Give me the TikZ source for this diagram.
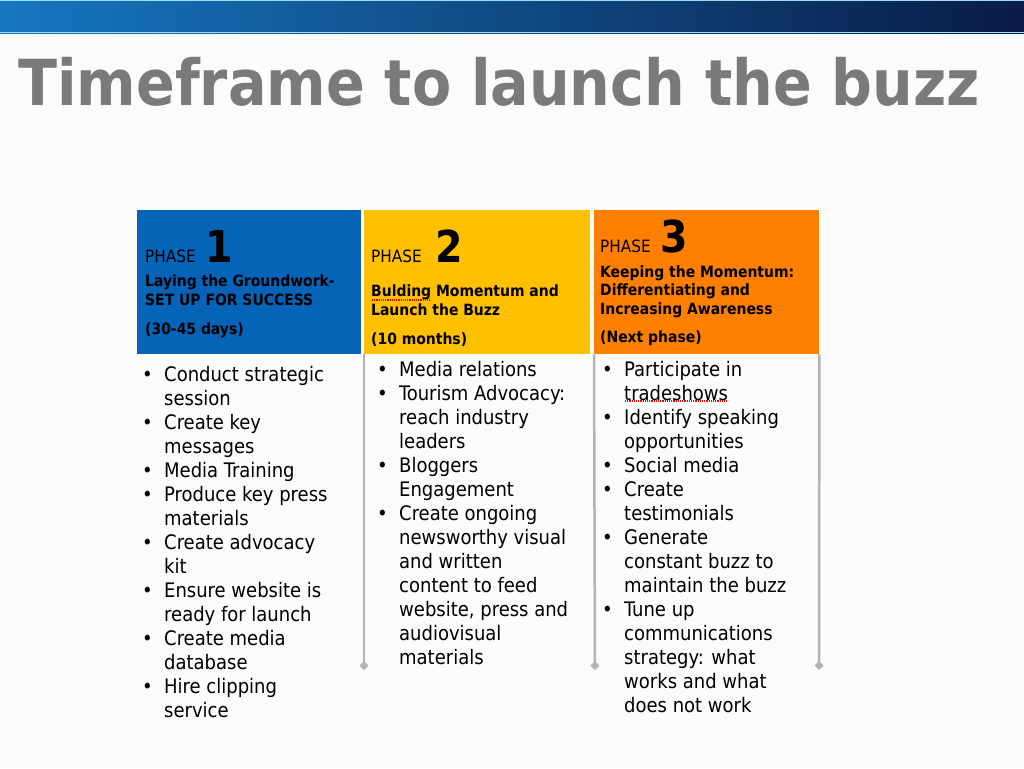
\documentclass[tikz,border=0pt]{standalone}
\usepackage{fontspec}
\setmainfont{DejaVu Sans Condensed}
\usetikzlibrary{arrows.meta}
\definecolor{barLight}{HTML}{1677C0}
\definecolor{barMid}{HTML}{0B4C92}
\definecolor{barDark}{HTML}{0A1C47}
\definecolor{titleGray}{HTML}{7A7A7A}
\definecolor{phaseBlue}{HTML}{0563B8}
\definecolor{phaseYellow}{HTML}{FFC000}
\definecolor{phaseOrange}{HTML}{FF8000}
\definecolor{railGray}{HTML}{B4B4B4}
\newcommand\bl{\makebox[22pt][l]{•}}
\newcommand\ct{\hspace*{22pt}}
\begin{document}
\begin{tikzpicture}[x=1pt,y=-1pt,
    phasebox/.style={draw=none, minimum width=225pt, minimum height=144pt, anchor=north west, inner sep=0pt},
    word/.style={anchor=base west, inner sep=0pt, font=\fontsize{17}{17}\selectfont},
    digit/.style={anchor=base west, inner sep=0pt, font=\fontsize{44}{44}\selectfont\bfseries},
    sub/.style={anchor=base west, inner sep=0pt, align=left, font=\fontsize{15.5}{18.5}\selectfont\bfseries},
    list/.style={anchor=base west, inner sep=0pt, font=\fontsize{20}{24}\selectfont},
    rail/.style={draw=railGray, line width=2.5pt, -{Diamond[length=9pt,width=9pt]}}]
\useasboundingbox (0,0) rectangle (1024,768);
\fill[white!97!gray] (0,0) rectangle (1024,768);

% top bar
\shade[left color=barLight, middle color=barMid, right color=barDark] (0,0) rectangle (1024,34);
\draw[cyan!40, line width=1pt] (0,1) -- (1024,1);
\draw[cyan!40, line width=1pt] (0,33) -- (1024,33);
\node[anchor=base west, inner sep=0pt, text=titleGray, font=\fontsize{63.5}{64}\selectfont\bfseries] (title) at (18,105) {Timeframe to launch the buzz};

% phase boxes
\node[phasebox, fill=phaseBlue, minimum width=224pt] (p1) at (137,210) {};
\node[phasebox, fill=phaseYellow, minimum width=226pt] (p2) at (364,210) {};
\node[phasebox, fill=phaseOrange] (p3) at (594,210) {};

\node[word] (ph1) at (145,262) {PHASE};
\node[digit] (n1) at (205,262) {1};
\node[sub] (s1) at (145,305) {Laying the Groundwork-\\SET UP FOR SUCCESS};
\node[sub] (d1) at (145,334) {(30-45 days)};

\node[word] (ph2) at (371,262) {PHASE};
\node[digit] (n2) at (435,262) {2};
\node[sub] (s2) at (371,315) {Bulding Momentum and\\Launch the Buzz};
\node[sub] (d2) at (371,344) {(10 months)};

\node[word] (ph3) at (600,252) {PHASE};
\node[digit] (n3) at (660,252) {3};
\node[sub] (s3) at (600,314) {Keeping the Momentum:\\Differentiating and\\Increasing Awareness};
\node[sub] (d3) at (600,342) {(Next phase)};

% rails
\coordinate (r1) at (364,670);
\coordinate (r2) at (595,670);
\coordinate (r3) at (819,670);
\draw[rail] (p2.south west) -- (r1);
\draw[rail] (p3.south west) -- (r2);
\draw[rail] (p3.south east) -- (r3);

% lists
\node[list] (l1) at (142,381) {\begin{tabular}[t]{@{}l@{}}
\bl Conduct strategic\\ \ct session\\
\bl Create key\\ \ct messages\\
\bl Media Training\\
\bl Produce key press\\ \ct materials\\
\bl Create advocacy\\ \ct kit\\
\bl Ensure website is\\ \ct ready for launch\\
\bl Create media\\ \ct database\\
\bl Hire clipping\\ \ct service
\end{tabular}};
\node[list] (l2) at (377,376) {\begin{tabular}[t]{@{}l@{}}
\bl Media relations\\
\bl Tourism Advocacy:\\ \ct reach industry\\ \ct leaders\\
\bl Bloggers\\ \ct Engagement\\
\bl Create ongoing\\ \ct newsworthy visual\\ \ct and written\\ \ct content to feed\\ \ct website, press and\\ \ct audiovisual\\ \ct materials
\end{tabular}};
\node[list] (l3) at (602,376) {\begin{tabular}[t]{@{}l@{}}
\bl Participate in\\ \ct tradeshows\\
\bl Identify speaking\\ \ct opportunities\\
\bl Social media\\
\bl Create\\ \ct testimonials\\
\bl Generate\\ \ct constant buzz to\\ \ct maintain the buzz\\
\bl Tune up\\ \ct communications\\ \ct strategy: what\\ \ct works and what\\ \ct does not work
\end{tabular}};

% spell marks
\draw[red, densely dotted, line width=1.2pt] (372,300) -- (430,300);
\draw[red, densely dotted, line width=1.2pt] (625,401) -- (727,401);
\end{tikzpicture}
\end{document}
